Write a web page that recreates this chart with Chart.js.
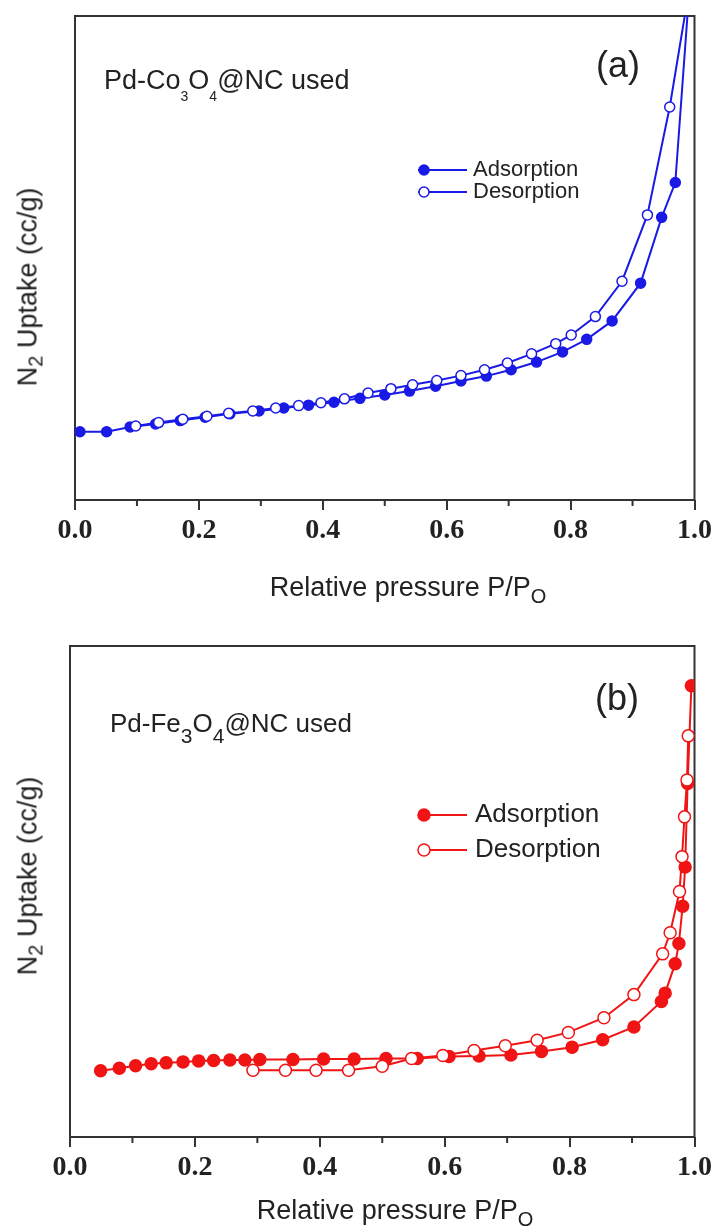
<!DOCTYPE html>
<html>
<head>
<meta charset="utf-8">
<script src="https://cdn.jsdelivr.net/npm/chart.js@4/dist/chart.umd.min.js"></script>
<style>
  body { margin: 0; background: #fff; }
  #wrap { position: relative; width: 716px; height: 1232px; background: #fff; overflow: hidden; }
  .box { position: absolute; left: 0; width: 716px; }
  .txt { position: absolute; font-family: "Liberation Sans", Arial, sans-serif; color: #222; line-height: 1; white-space: nowrap; }
  .sub { position: relative; }
  .rot { transform: translate(-50%, -50%) rotate(-90deg); }
</style>
</head>
<body>
<div id="wrap">
  <div class="box" style="top:0;height:560px"><canvas id="chartA" width="716" height="560"></canvas></div>
  <div class="box" style="top:600px;height:600px"><canvas id="chartB" width="716" height="600"></canvas></div>

  <div class="txt" style="left:104px;top:67px;font-size:27px">Pd-Co<span class="sub" style="font-size:14px;top:12px">3</span>O<span class="sub" style="font-size:14px;top:12px">4</span>@NC used</div>
  <div class="txt" style="left:596px;top:47px;font-size:36px">(a)</div>
  <div class="txt rot" style="left:28px;top:287px;font-size:27px">N<span class="sub" style="font-size:20px;top:6px">2</span> Uptake (cc/g)</div>
  <div class="txt" style="left:408px;top:574px;font-size:27px;transform:translateX(-50%)">Relative pressure P/P<span class="sub" style="font-size:20px;top:7px">O</span></div>

  <div class="txt" style="left:110px;top:710px;font-size:26px">Pd-Fe<span class="sub" style="font-size:21px;top:11px">3</span>O<span class="sub" style="font-size:21px;top:11px">4</span>@NC used</div>
  <div class="txt" style="left:595px;top:680px;font-size:36px">(b)</div>
  <div class="txt rot" style="left:28px;top:876px;font-size:27px">N<span class="sub" style="font-size:20px;top:6px">2</span> Uptake (cc/g)</div>
  <div class="txt" style="left:395px;top:1197px;font-size:27px;transform:translateX(-50%)">Relative pressure P/P<span class="sub" style="font-size:20px;top:7px">O</span></div>
</div>
<script>
// (a) Pd-Co3O4@NC used
const aAdsP = [0.008, 0.051, 0.089, 0.13, 0.17, 0.21, 0.25, 0.297, 0.337, 0.377, 0.418, 0.46, 0.50, 0.54, 0.582, 0.623, 0.664, 0.704, 0.745, 0.787, 0.826, 0.867, 0.913, 0.947, 0.969, 0.992];
const aAdsV = [14.1, 14.1, 15.1, 15.7, 16.4, 17.1, 17.8, 18.4, 19.0, 19.6, 20.2, 21.0, 21.7, 22.5, 23.5, 24.6, 25.6, 26.9, 28.5, 30.6, 33.2, 37.0, 44.8, 58.4, 65.6, 106];
const aDesP = [0.992, 0.96, 0.924, 0.883, 0.840, 0.801, 0.776, 0.737, 0.698, 0.661, 0.623, 0.584, 0.545, 0.510, 0.473, 0.435, 0.397, 0.361, 0.324, 0.287, 0.248, 0.213, 0.174, 0.135, 0.098];
const aDesV = [106, 81.2, 58.9, 45.2, 37.9, 34.1, 32.3, 30.2, 28.3, 26.9, 25.7, 24.7, 23.8, 23.0, 22.1, 20.9, 20.1, 19.5, 19.0, 18.4, 17.9, 17.3, 16.7, 16.0, 15.3];

// (b) Pd-Fe3O4@NC used
const bAdsP = [0.049, 0.079, 0.105, 0.130, 0.154, 0.181, 0.206, 0.230, 0.256, 0.280, 0.304, 0.357, 0.406, 0.455, 0.506, 0.556, 0.607, 0.655, 0.706, 0.755, 0.804, 0.853, 0.903, 0.947, 0.953, 0.969, 0.975, 0.981, 0.985, 0.989, 0.995];
const bAdsV = [13.5, 14.0, 14.5, 14.9, 15.1, 15.3, 15.5, 15.6, 15.7, 15.7, 15.8, 15.8, 15.9, 15.9, 16.0, 16.0, 16.4, 16.5, 16.7, 17.4, 18.3, 19.8, 22.4, 27.6, 29.3, 35.3, 39.4, 47.0, 55.0, 72.0, 91.9];
const bDesP = [0.990, 0.988, 0.984, 0.980, 0.976, 0.961, 0.949, 0.903, 0.855, 0.798, 0.748, 0.697, 0.647, 0.597, 0.547, 0.500, 0.446, 0.394, 0.345, 0.293];
const bDesV = [81.7, 72.7, 65.2, 57.1, 50.0, 41.6, 37.3, 29.0, 24.3, 21.3, 19.7, 18.6, 17.6, 16.6, 16.0, 14.4, 13.6, 13.6, 13.6, 13.6];

const seriesNames = ['Adsorption', 'Desorption'];
const xTickLabels = ['0.0', '0.2', '0.4', '0.6', '0.8', '1.0'];
const xMinorTicks = [0.1, 0.3, 0.5, 0.7, 0.9];

function pts(xs, ys) {
    return xs.map((x, i) => ({x: x, y: ys[i]}));
}

// box around the plot + short minor ticks
const framePlugin = {
    id: 'frame',
    beforeDatasetsDraw(chart) {
        const {ctx, chartArea: a, scales} = chart;
        ctx.save();
        ctx.strokeStyle = '#333';
        ctx.lineWidth = 2;
        ctx.strokeRect(a.left, a.top, a.right - a.left, a.bottom - a.top);
        ctx.beginPath();
        xMinorTicks.forEach(v => {
            const px = scales.x.getPixelForValue(v);
            ctx.moveTo(px, a.bottom);
            ctx.lineTo(px, a.bottom + 6);
        });
        ctx.stroke();
        ctx.restore();
    }
};

// legend drawn inside the plot area
const innerLegend = {
    id: 'innerLegend',
    afterDraw(chart, args, o) {
        const ctx = chart.ctx;
        chart.data.datasets.forEach((ds, i) => {
            const y = o.y + i * o.gap;
            ctx.save();
            ctx.strokeStyle = ds.borderColor;
            ctx.lineWidth = ds.borderWidth;
            ctx.beginPath();
            ctx.moveTo(o.x0, y);
            ctx.lineTo(o.x1, y);
            ctx.stroke();
            ctx.beginPath();
            ctx.arc(o.xm, y, ds.pointRadius, 0, Math.PI * 2);
            ctx.fillStyle = ds.pointBackgroundColor;
            ctx.fill();
            ctx.lineWidth = ds.pointBorderWidth;
            ctx.strokeStyle = ds.pointBorderColor;
            ctx.stroke();
            ctx.fillStyle = '#222';
            ctx.font = o.size + 'px "Liberation Sans", Arial, sans-serif';
            ctx.textBaseline = 'middle';
            ctx.fillText(ds.label, o.xt, y);
            ctx.restore();
        });
    }
};

function makeChart(id, color, radius, ads, des, pad, axisH, legend) {
    const base = {
        showLine: true,
        tension: 0,
        borderColor: color,
        borderWidth: 2,
        pointRadius: radius,
        pointBorderColor: color,
        pointBorderWidth: 1.5,
    };
    return new Chart(document.getElementById(id), {
        type: 'scatter',
        data: {
            datasets: [
                Object.assign({}, base, {label: seriesNames[0], data: ads, pointBackgroundColor: color, order: 2}),
                Object.assign({}, base, {label: seriesNames[1], data: des, pointBackgroundColor: '#fff', order: 1}),
            ]
        },
        plugins: [framePlugin, innerLegend],
        options: {
            responsive: false,
            animation: false,
            devicePixelRatio: 1,
            layout: {padding: pad},
            scales: {
                x: {
                    type: 'linear',
                    min: 0,
                    max: 1,
                    border: {display: false},
                    grid: {drawOnChartArea: false, drawTicks: true, tickLength: 10, tickColor: '#333', lineWidth: 2},
                    ticks: {
                        stepSize: 0.2,
                        autoSkip: false,
                        maxRotation: 0,
                        padding: 4,
                        color: '#222',
                        font: {family: '"Liberation Serif", "Times New Roman", serif', weight: 'bold', size: 28},
                        callback: v => xTickLabels[Math.round(v / 0.2)]
                    },
                    afterFit: s => { s.height = axisH; }
                },
                y: {
                    display: false,
                    min: 0,
                    max: 100
                }
            },
            plugins: {
                legend: {display: false},
                tooltip: {enabled: false},
                innerLegend: legend
            }
        }
    });
}

makeChart('chartA', '#1a1ae6', 5, pts(aAdsP, aAdsV), pts(aDesP, aDesV),
    {left: 75, right: 21, top: 16, bottom: 0}, 60,
    {x0: 418, x1: 467, xm: 424, xt: 473, y: 170, gap: 22, size: 22});

makeChart('chartB', '#f01414', 6, pts(bAdsP, bAdsV), pts(bDesP, bDesV),
    {left: 70, right: 20, top: 46, bottom: 0}, 63,
    {x0: 418, x1: 467, xm: 424, xt: 475, y: 215, gap: 35, size: 26});
</script>
</body>
</html>
